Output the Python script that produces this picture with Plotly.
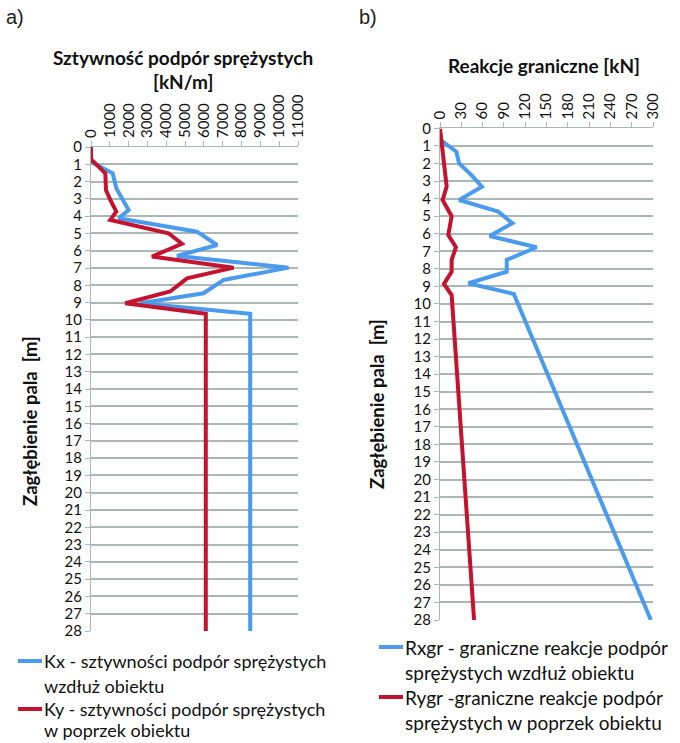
import plotly.graph_objects as go

W, H = 680, 743

# ---- data (a) stiffness [kN/m] vs depth [m]
kx_depth = [0, 0.85, 1.52, 2.4, 3.64, 4.12, 4.9, 5.67, 6.3, 6.98, 7.69, 8.46, 9.04, 9.65, 28]
kx_val = [0, 0, 1150, 1350, 2000, 1470, 5630, 6700, 4570, 10500, 7050, 5980, 2620, 8460, 8460]
ky_depth = [0, 0.7, 1.52, 2.5, 3.06, 3.74, 4.22, 4.99, 5.6, 6.34, 6.98, 7.6, 8.36, 9.04, 9.65, 28]
ky_val = [0, 0, 760, 800, 1025, 1345, 1025, 4120, 4830, 3240, 7580, 5100, 4210, 1820, 6100, 6100]

# ---- data (b) limit reactions [kN] vs depth [m]
rx_depth = [0.66, 1.33, 1.99, 2.65, 3.32, 4.08, 4.74, 5.4, 6.13, 6.77, 7.49, 8.16, 8.82, 9.43, 28]
rx_val = [1, 23, 27, 44, 59, 27, 82, 102, 70, 136, 94, 94, 40, 104, 297]
ry_depth = [0, 1, 2, 3.32, 4.08, 5.0, 6.07, 6.77, 7.49, 8.16, 8.86, 9.49, 28]
ry_val = [0, 3, 5.6, 9.4, 3.7, 16.4, 11.7, 22.5, 16.4, 16.4, 5.6, 16.4, 48]

depth_ticks = list(range(0, 29))
k_ticks = list(range(0, 11001, 1000))
r_ticks = list(range(0, 301, 30))

left_names = ["Kx - sztywności podpór sprężystych", "wzdłuż obiektu",
              "Ky - sztywności podpór sprężystych", "w poprzek obiektu"]
right_names = ["Rxgr - graniczne reakcje podpór", "sprężystych wzdłuż obiektu",
               "Rygr -graniczne reakcje podpór", "sprężystych w poprzek obiektu"]

BLUE = "#4A9BEE"
RED = "#C4132F"
GRID = "#AAB7B5"
FONT = "Lato"

fig = go.Figure()
fig.add_trace(go.Scatter(x=kx_val, y=kx_depth, mode="lines", line=dict(color=BLUE, width=4),
                         name=left_names[0], xaxis="x", yaxis="y"))
fig.add_trace(go.Scatter(x=ky_val, y=ky_depth, mode="lines", line=dict(color=RED, width=4),
                         name=left_names[2], xaxis="x", yaxis="y"))
fig.add_trace(go.Scatter(x=rx_val, y=rx_depth, mode="lines", line=dict(color=BLUE, width=4),
                         name=right_names[0], xaxis="x2", yaxis="y2"))
fig.add_trace(go.Scatter(x=ry_val, y=ry_depth, mode="lines", line=dict(color=RED, width=4),
                         name=right_names[2], xaxis="x2", yaxis="y2"))

def xax(domain, anchor, rng, ticks):
    return dict(domain=domain, anchor=anchor, side="top", range=rng, tickvals=ticks,
                ticktext=[str(t) for t in ticks], tickangle=-90, automargin=False,
                showgrid=False, zeroline=False, showline=True, linecolor=GRID, linewidth=1,
                ticks="outside", ticklen=5, tickcolor=GRID,
                tickfont=dict(family=FONT, size=15, color="#111"))

def yax(domain, anchor):
    return dict(domain=domain, anchor=anchor, range=[28, 0], tickvals=depth_ticks,
                ticktext=[str(t) for t in depth_ticks], automargin=False,
                showgrid=True, gridcolor=GRID, gridwidth=1.5, zeroline=False,
                showline=True, linecolor=GRID, linewidth=1,
                ticks="outside", ticklen=5, tickcolor=GRID,
                tickfont=dict(family=FONT, size=15, color="#111"))

fig.update_layout(
    width=W, height=H, margin=dict(l=0, r=0, t=0, b=0, autoexpand=False),
    paper_bgcolor="white", plot_bgcolor="white", showlegend=False,
    xaxis=xax([91 / W, 298 / W], "y", [0, 11000], k_ticks),
    yaxis=yax([1 - 631 / H, 1 - 147 / H], "x"),
    xaxis2=xax([440 / W, 653 / W], "y2", [0, 300], r_ticks),
    yaxis2=yax([1 - 620 / H, 1 - 128.4 / H], "x2"),
)

def P(px, py):
    return px / W, 1 - py / H

ann = []
def text(t, px, py, size, family=FONT, xanchor="left", angle=0, color="#111"):
    x, y = P(px, py)
    ann.append(dict(text=t, x=x, y=y, xref="paper", yref="paper", xanchor=xanchor,
                    yanchor="middle", showarrow=False, textangle=angle,
                    font=dict(family=family, size=size, color=color)))

text("a)", 4, 17, 20, family="Liberation Sans", color="#222")
text("b)", 357, 17, 20, family="Liberation Sans", color="#222")
text("<b>Sztywność podpór sprężystych</b>", 183, 58, 19, xanchor="center")
text("<b>[kN/m]</b>", 183, 82, 19, xanchor="center")
text("<b>Reakcje graniczne [kN]</b>", 544, 65, 19, xanchor="center")
text("<b>Zagłębienie pala  [m]</b>", 30, 421, 18.5, xanchor="center", angle=-90)
text("<b>Zagłębienie pala  [m]</b>", 377, 404, 18.5, xanchor="center", angle=-90)

shapes = []
def legend_block(names, colors, x0, x1, xt, ys, size):
    for i, (nm, yy) in enumerate(zip(names, ys)):
        text(nm, xt, yy, size)
        if i % 2 == 0:
            y0 = 1 - yy / H
            shapes.append(dict(type="line", xref="paper", yref="paper", x0=x0 / W, x1=x1 / W,
                               y0=y0, y1=y0, line=dict(color=colors[i // 2], width=4)))

legend_block(left_names, [BLUE, RED], 18, 42, 42, [661, 686, 709, 730], 18)
legend_block(right_names, [BLUE, RED], 379, 403, 403, [647, 672, 697, 722], 19)

fig.update_layout(annotations=ann, shapes=shapes)
fig.write_html("out.html")
